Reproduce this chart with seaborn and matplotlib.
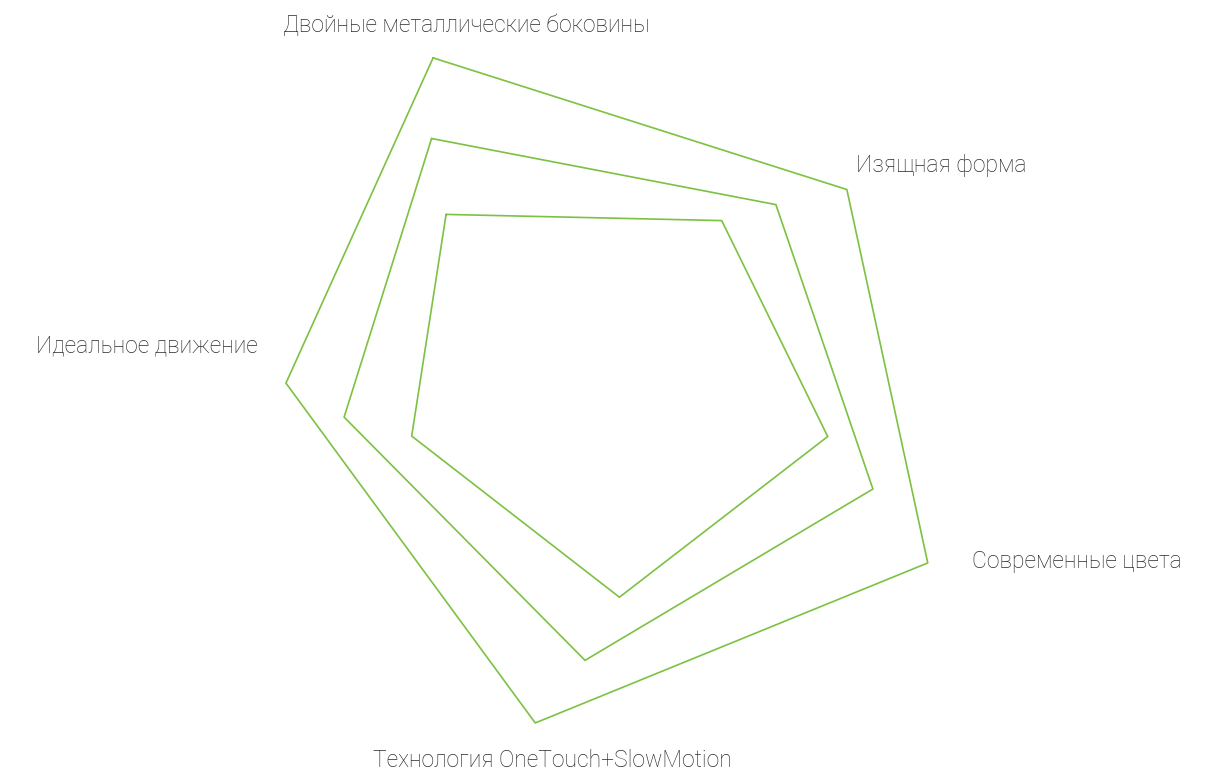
import numpy as np
import pandas as pd
import matplotlib
matplotlib.use("Agg")
import matplotlib.pyplot as plt
import seaborn as sns

# Radar categories (clockwise from the top)
categories = [
    "Двойные металлические боковины",
    "Изящная форма",
    "Современные цвета",
    "Технология OneTouch+SlowMotion",
    "Идеальное движение",
]

# Scores per ring, 0-100 scale
outer_values = [98.5, 83.3, 99.7, 93.5, 85.5]
middle_values = [80.2, 66.4, 77.8, 75.0, 70.5]
inner_values = [61.9, 53.7, 61.9, 58.0, 53.7]
ring_names = ["outer", "middle", "inner"]

# Layout: axis directions (degrees, counter-clockwise from east) and the
# decorative twist applied to each successive ring
axis_angles_deg = [117.8, 38.4, -29.2, -101.4, 180.2]
ring_twist_deg = [0.0, 7.5, 15.5]

LINE_COLOR = "#7cc142"
TEXT_COLOR = "#2b2b2b"

W, H = 1206, 771
sns.set_theme(style="white")
plt.rcParams["font.family"] = ["Roboto", "DejaVu Sans"]

rows = []
for name, vals, twist in zip(ring_names, [outer_values, middle_values, inner_values], ring_twist_deg):
    closed = list(vals) + [vals[0]]
    angs = list(axis_angles_deg) + [axis_angles_deg[0]]
    for k, (a, v) in enumerate(zip(angs, closed)):
        rows.append({"ring": name, "step": k, "theta": np.deg2rad(a + twist), "value": v})
df = pd.DataFrame(rows)

fig = plt.figure(figsize=(W / 100, H / 100), dpi=100)
fig.patch.set_facecolor("white")

# polar axes centred at pixel (604, 382) with r=100 at 372 px
cx, cy, R = 604, 382, 372
ax = fig.add_axes([(cx - R) / W, (H - cy - R) / H, 2 * R / W, 2 * R / H], projection="polar")
ax.set_ylim(0, 100)

sns.lineplot(
    data=df, x="theta", y="value", hue="ring", units="ring", estimator=None,
    sort=False, palette=[LINE_COLOR] * 3, linewidth=1.2, legend=False, ax=ax,
)
for ln in ax.lines:
    ln.set_clip_on(False)
ax.set_axis_off()

# Category labels (pixel anchors: x, baseline y, alignment)
label_anchors = [
    (466, 32.3, "center"),
    (856, 171.7, "left"),
    (971.7, 568.3, "left"),
    (552.5, 766.7, "center"),
    (258, 352.7, "right"),
]
for text, (x, y, ha) in zip(categories, label_anchors):
    fig.text(x / W, (H - y) / H, text, ha=ha, va="baseline", fontsize=16.5,
             fontweight="light", color=TEXT_COLOR)

fig.savefig("out.png", dpi=100, facecolor="white")
